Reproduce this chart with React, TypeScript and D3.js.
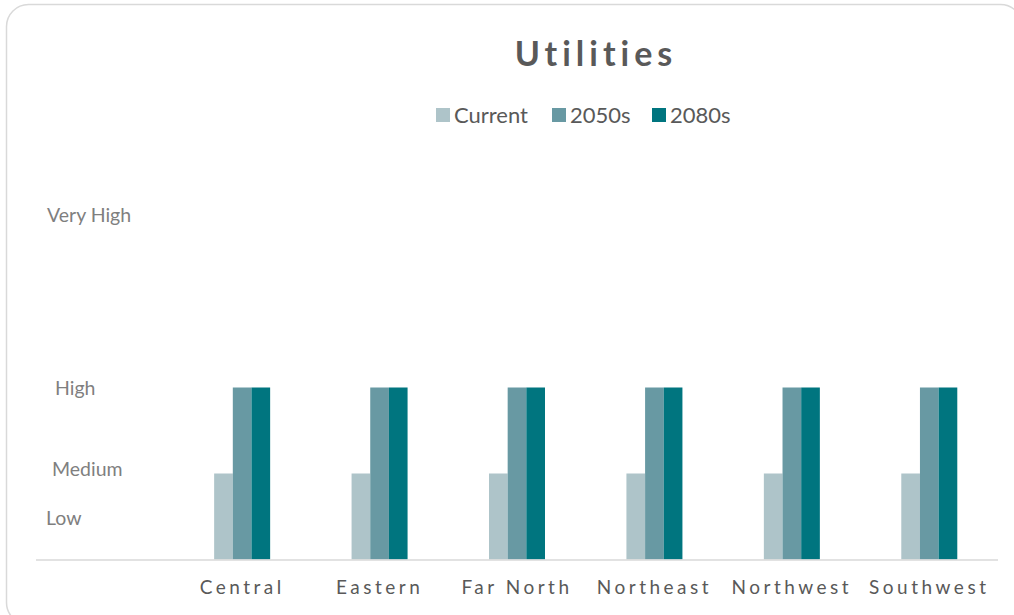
import React from "react";
import * as d3 from "d3";

const categories = ["Central", "Eastern", "Far North", "Northeast", "Northwest", "Southwest"];
const seriesNames = ["Current", "2050s", "2080s"];
const currentValues = [2, 2, 2, 2, 2, 2];
const values2050s = [4, 4, 4, 4, 4, 4];
const values2080s = [4, 4, 4, 4, 4, 4];
const levelLabels = ["Low", "Medium", "High", "Very High"];
const levelValues = [1, 2, 4, 8];

const colors = ["#aec4c9", "#6899a3", "#00757f"];
const labelX = [46, 52, 55, 47];
const labelDy = [1.5, -4.5, 0.5, -0.5];

const W = 1014;
const H = 615;
const FONT = "Lato, 'Open Sans', sans-serif";

export default function App() {
  const series = [currentValues, values2050s, values2080s];
  const x = d3.scaleBand<string>().domain(["", ...categories]).range([36, 998]).padding(0);
  const xInner = d3.scaleBand<string>().domain(seriesNames).range([0, 56]).padding(0);
  const groupOffset = (x.bandwidth() - 56) / 2;
  const y = d3.scaleLinear().domain([0, 8]).range([559.5, 215.5]);

  return (
    <div style={{ position: "fixed", left: 0, top: 0, width: W, height: H, background: "#fff" }}>
      <svg width={W} height={H} style={{ display: "block" }}>
        <rect x={6.5} y={4.5} width={1016} height={620} rx={22} ry={22} fill="#fff" stroke="#d9d9d9" strokeWidth={1.5} />
        <text x={596} y={66} textAnchor="middle" fontFamily={FONT} fontWeight={700} fontSize={34} letterSpacing={5} fill="#595959">
          Utilities
        </text>
        {/* legend */}
        {seriesNames.map((s, i) => {
          const lx = [436, 552, 652][i];
          return (
            <g key={s}>
              <rect x={lx} y={108} width={14} height={14} fill={colors[i]} />
              <text x={lx + 18} y={123} fontFamily={FONT} fontSize={22} fill="#595959">
                {s}
              </text>
            </g>
          );
        })}
        {/* level labels */}
        {levelLabels.map((l, i) => (
          <text key={l} x={labelX[i]} y={y(levelValues[i]) + labelDy[i]} dy="0.35em" fontFamily={FONT} fontSize={19.5} fill="#7f7f7f">
            {l}
          </text>
        ))}
        {/* bars */}
        {categories.map((c, ci) => (
          <g key={c} transform={`translate(${(x(c) as number) + groupOffset},0)`}>
            {seriesNames.map((s, si) => {
              const v = series[si][ci];
              return (
                <rect
                  key={s}
                  x={xInner(s) as number}
                  y={y(v)}
                  width={xInner.bandwidth()}
                  height={y(0) - y(v)}
                  fill={colors[si]}
                />
              );
            })}
          </g>
        ))}
        <line x1={36} x2={998} y1={560} y2={560} stroke="#d9d9d9" strokeWidth={1.5} />
        {categories.map((c) => (
          <text
            key={c}
            x={(x(c) as number) + x.bandwidth() / 2}
            y={594}
            textAnchor="middle"
            fontFamily={FONT}
            fontSize={19}
            letterSpacing={3.5}
            fill="#595959"
          >
            {c}
          </text>
        ))}
      </svg>
    </div>
  );
}
